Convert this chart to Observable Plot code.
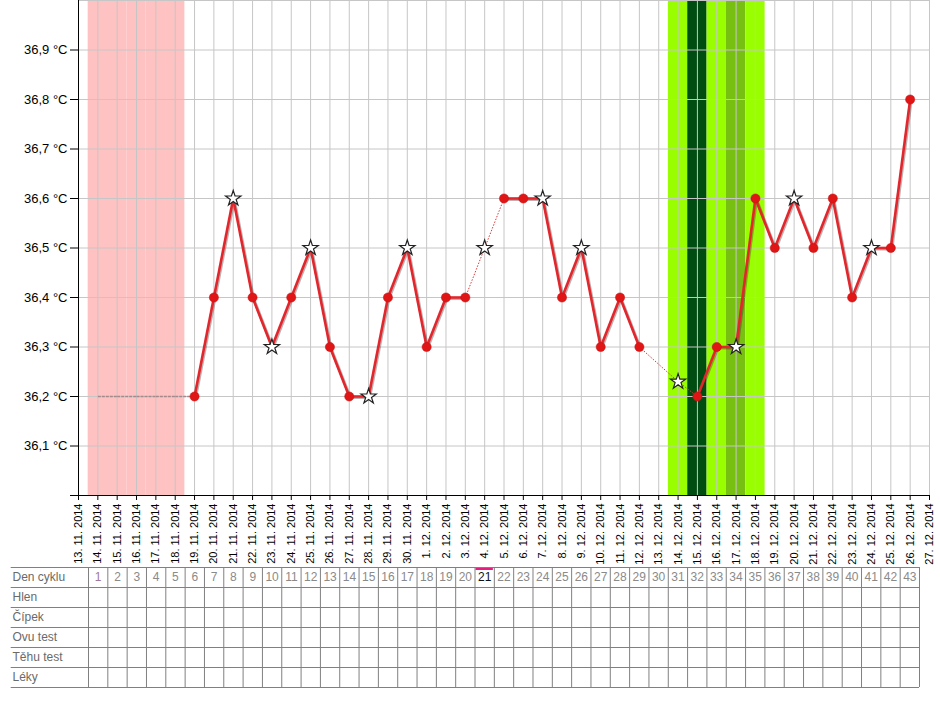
<!DOCTYPE html>
<html>
<head>
<meta charset="utf-8">
<script src="https://cdn.jsdelivr.net/npm/d3@7"></script>
<script src="https://cdn.jsdelivr.net/npm/@observablehq/plot@0.6"></script>
<style>
  html, body { margin: 0; padding: 0; background: #fff; }
  #chart svg { display: block; }
</style>
</head>
<body>
<div id="chart"></div>
<script>
// ---- data ----
const dates = [
  "13. 11. 2014","14. 11. 2014","15. 11. 2014","16. 11. 2014","17. 11. 2014","18. 11. 2014",
  "19. 11. 2014","20. 11. 2014","21. 11. 2014","22. 11. 2014","23. 11. 2014","24. 11. 2014",
  "25. 11. 2014","26. 11. 2014","27. 11. 2014","28. 11. 2014","29. 11. 2014","30. 11. 2014",
  "1. 12. 2014","2. 12. 2014","3. 12. 2014","4. 12. 2014","5. 12. 2014","6. 12. 2014",
  "7. 12. 2014","8. 12. 2014","9. 12. 2014","10. 12. 2014","11. 12. 2014","12. 12. 2014",
  "13. 12. 2014","14. 12. 2014","15. 12. 2014","16. 12. 2014","17. 12. 2014","18. 12. 2014",
  "19. 12. 2014","20. 12. 2014","21. 12. 2014","22. 12. 2014","23. 12. 2014","24. 12. 2014",
  "25. 12. 2014","26. 12. 2014","27. 12. 2014"
];
const temps = [
  null, 36.2, 36.2, 36.2, 36.2, 36.2,
  36.2, 36.4, 36.6, 36.4, 36.3, 36.4,
  36.5, 36.3, 36.2, 36.2, 36.4, 36.5,
  36.3, 36.4, 36.4, 36.5, 36.6, 36.6,
  36.6, 36.4, 36.5, 36.3, 36.4, 36.3,
  null, 36.23, 36.2, 36.3, 36.3, 36.6,
  36.5, 36.6, 36.5, 36.6, 36.4, 36.5,
  36.5, 36.8, null
];
const noMeasureDays = [1, 2, 3, 4, 5];
const starDays = [8, 10, 12, 15, 17, 21, 24, 26, 31, 34, 37, 41];
const excludedDays = [21, 31];
const menstruationDays = [1, 2, 3, 4, 5];
const fertileDays = [31, 32, 33, 34, 35];
const peakDays = [32];
const secondaryDays = [34];
const yTicks = [36.0, 36.1, 36.2, 36.3, 36.4, 36.5, 36.6, 36.7, 36.8, 36.9];
const gridLevels = [36.1, 36.2, 36.3, 36.4, 36.5, 36.6, 36.7, 36.8, 36.9, 37.0];

const tableRows = ["Den cyklu", "Hlen", "Čípek", "Ovu test", "Těhu test", "Léky"];
const cycleDays = [1,2,3,4,5,6,7,8,9,10,11,12,13,14,15,16,17,18,19,20,21,22,23,24,25,26,27,28,29,30,31,32,33,34,35,36,37,38,39,40,41,42,43];
const todayDay = 21;

// ---- derived ----
const dayIdx = dates.map((d, i) => i);
const points = dayIdx.filter(i => temps[i] != null).map(i => ({day: i, t: temps[i]}));
const segments = [];
for (let k = 0; k < points.length - 1; k++) {
  const a = points[k], b = points[k + 1];
  let kind = "solid";
  if (noMeasureDays.includes(a.day)) kind = "gray";
  else if (excludedDays.includes(a.day) || excludedDays.includes(b.day)) kind = "dotted";
  segments.push({x1: a.day, y1: a.t, x2: b.day, y2: b.t, kind});
}
const measured = points.filter(p => !noMeasureDays.includes(p.day));
const dots = measured.filter(p => !starDays.includes(p.day));
const stars = measured.filter(p => starDays.includes(p.day));

const bands = [
  ...menstruationDays.map(d => ({day: d, fill: "#ffc2c2"})),
  ...fertileDays.map(d => ({day: d, fill: peakDays.includes(d) ? "#004d12" : secondaryDays.includes(d) ? "#77bf10" : "#99ff00"}))
];

const font = "'Liberation Sans', Arial, Helvetica, sans-serif";
const fmtT = d => d === 36.0 ? "" : d.toFixed(1).replace(".", ",") + " °C";

const main = Plot.plot({
  width: 940, height: 566,
  marginLeft: 78, marginRight: 11, marginTop: 0, marginBottom: 71,
  x: {domain: [0, 44], axis: null},
  y: {domain: [36, 37], axis: null},
  style: {fontFamily: font, color: "black", background: "white", overflow: "visible"},
  marks: [
    Plot.rect(bands, {x1: d => d.day - 0.5, x2: d => d.day + 0.5, y1: 36, y2: 37, fill: d => d.fill}),
    Plot.ruleX(dayIdx.slice(1), {stroke: "#c6c6c6", strokeWidth: 1}),
    Plot.ruleY(gridLevels, {stroke: "#c6c6c6", strokeWidth: 1}),
    Plot.axisY({ticks: yTicks, tickFormat: fmtT, tickSize: 8, tickPadding: 3, fontSize: 13, stroke: "black"}),
    Plot.ruleX([0], {stroke: "black"}),
    Plot.ruleY([36], {stroke: "black"}),
    Plot.axisX({ticks: dayIdx, tickFormat: i => dates[i], tickRotate: -90, tickSize: 5, tickPadding: 3, fontSize: 11, stroke: "black"}),
    // line shadow
    Plot.link(segments.filter(s => s.kind === "solid"), {x1: "x1", y1: "y1", x2: "x2", y2: "y2", stroke: "#402020", strokeOpacity: 0.35, strokeWidth: 3, dx: 1, dy: 1}),
    Plot.link(segments.filter(s => s.kind === "solid"), {x1: "x1", y1: "y1", x2: "x2", y2: "y2", stroke: "#e2262c", strokeWidth: 2.6}),
    Plot.link(segments.filter(s => s.kind === "dotted"), {x1: "x1", y1: "y1", x2: "x2", y2: "y2", stroke: "#d83a3a", strokeWidth: 1, strokeDasharray: "1.5,1.5"}),
    Plot.link(segments.filter(s => s.kind === "gray"), {x1: "x1", y1: "y1", x2: "x2", y2: "y2", stroke: "#a88888", strokeWidth: 1.6, strokeDasharray: "3,1"}),
    Plot.dot(dots, {x: "day", y: "t", r: 4.6, fill: "#e01515", stroke: "#c01010", strokeWidth: 0.5}),
    Plot.dot(stars, {x: "day", y: "t", symbol: "star", r: 4.8, fill: "white", stroke: "#222", strokeWidth: 1.2})
  ]
});

const rowBoundaries = d3.range(0, tableRows.length + 1);
const colBoundaries = [0, ...cycleDays].map(d => d + 0.5);
const table = Plot.plot({
  width: 940, height: 154,
  marginLeft: 88, marginRight: 21, marginTop: 1, marginBottom: 33,
  x: {domain: [0.5, 43.5], axis: null},
  y: {domain: [0, tableRows.length], reverse: true, axis: null},
  color: {type: "identity"},
  style: {fontFamily: font, background: "white", overflow: "visible"},
  marks: [
    Plot.rect([todayDay], {x1: d => d - 0.45, x2: d => d + 0.45, y1: 0.02, y2: 0.15, fill: "#ea1a80"}),
    Plot.ruleY(rowBoundaries, {x1: -3.5, x2: 43.5, stroke: "#808080"}),
    Plot.ruleX(colBoundaries, {y1: 0, y2: tableRows.length, stroke: "#808080"}),
    Plot.text(tableRows, {frameAnchor: "left", dx: -76, y: (d, i) => i + 0.5, text: d => d, textAnchor: "start", fill: "#6a6a6a", fontSize: 12}),
    Plot.text(cycleDays, {x: d => d, y: 0.5, text: d => String(d), fill: d => d === todayDay ? "#111" : d === 1 ? "#a07898" : "#8a8a8a", fontSize: 12})
  ]
});

document.getElementById("chart").append(main, table);
</script>
</body>
</html>
